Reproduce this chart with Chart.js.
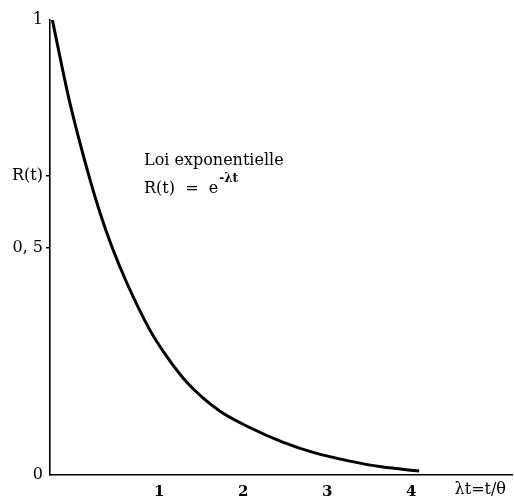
<!DOCTYPE html>
<html>
<head>
<meta charset="utf-8">
<script src="https://cdn.jsdelivr.net/npm/chart.js@4"></script>
<style>
  body { margin: 0; background: #fff; }
</style>
</head>
<body>
<canvas id="myChart" width="514" height="502"></canvas>
<script>
// curve: λt and R(t)
const lambdaT = [-0.272, -0.071, 0.178, 0.296, 0.438, 0.615, 0.888, 1.077, 1.337, 1.716, 2.071, 2.462, 2.864, 3.254, 3.645, 4.095];
const reliability = [1.0, 0.824, 0.648, 0.576, 0.501, 0.422, 0.319, 0.264, 0.202, 0.141, 0.105, 0.073, 0.048, 0.031, 0.018, 0.009];

const xTickValues = [1, 2, 3, 4];
const xTickLabels = ['1', '2', '3', '4'];
const yTickValues = [0, 0.5, 0.657, 1];
const yTickLabels = ['0', '0, 5', 'R(t)', '1'];
const yMarked = [0.5, 0.657];   // the only ticks with a small dash

const font = "DejaVu Serif";

const notes = {
    id: 'notes',
    afterDraw(chart) {
        const c = chart.ctx;
        const x = chart.scales.x, y = chart.scales.y;
        c.save();
        c.fillStyle = '#000';
        c.textBaseline = 'alphabetic';
        c.font = '16px "' + font + '"';
        c.fillText('Loi exponentielle', 144, 165);
        c.fillText('R(t)  =  e', 144, 193);
        const w = c.measureText('R(t)  =  e').width;
        c.font = 'bold 12px "' + font + '"';
        c.fillText('-λt', 144 + w + 1, 182);
        // axis title at the right end of the time axis
        c.font = '16px "' + font + '"';
        c.textAlign = 'right';
        c.fillText('λt=t/θ', x.right - 6, y.bottom + 19);
        c.restore();
    }
};

const ctx = document.getElementById('myChart').getContext('2d');
new Chart(ctx, {
    type: 'line',
    data: {
        datasets: [{
            data: lambdaT.map((v, i) => ({x: v, y: reliability[i]})),
            borderColor: '#000',
            borderWidth: 3,
            pointRadius: 0,
            cubicInterpolationMode: 'monotone',
            fill: false
        }]
    },
    options: {
        responsive: false,
        animation: false,
        layout: {padding: {top: 20, right: 2, left: 0, bottom: 0}},
        plugins: {
            legend: {display: false},
            tooltip: {enabled: false}
        },
        scales: {
            x: {
                type: 'linear',
                min: -0.3,
                max: 5.2,
                afterFit(scale) { scale.height = 27; },
                afterBuildTicks(scale) {
                    scale.ticks = xTickValues.map(v => ({value: v}));
                },
                grid: {display: false, drawTicks: false},
                border: {display: true, color: '#000', width: 1.6},
                ticks: {
                    autoSkip: false,
                    maxRotation: 0,
                    padding: 8,
                    color: '#000',
                    font: {family: font, size: 15, weight: 'bold'},
                    callback: (v) => xTickLabels[xTickValues.indexOf(v)]
                }
            },
            y: {
                min: 0,
                max: 1,
                afterFit(scale) { scale.width = 50; },
                afterBuildTicks(scale) {
                    scale.ticks = yTickValues.map(v => ({value: v}));
                },
                grid: {
                    drawOnChartArea: false,
                    drawTicks: true,
                    tickLength: 4,
                    lineWidth: 1.5,
                    color: (c) => yMarked.includes(c.tick && c.tick.value) ? '#000' : 'rgba(0,0,0,0)'
                },
                border: {display: true, color: '#000', width: 1.6},
                ticks: {
                    autoSkip: false,
                    padding: 3,
                    color: '#000',
                    font: {family: font, size: 16},
                    callback: (v) => yTickLabels[yTickValues.indexOf(v)]
                }
            }
        }
    },
    plugins: [notes]
});
</script>
</body>
</html>
